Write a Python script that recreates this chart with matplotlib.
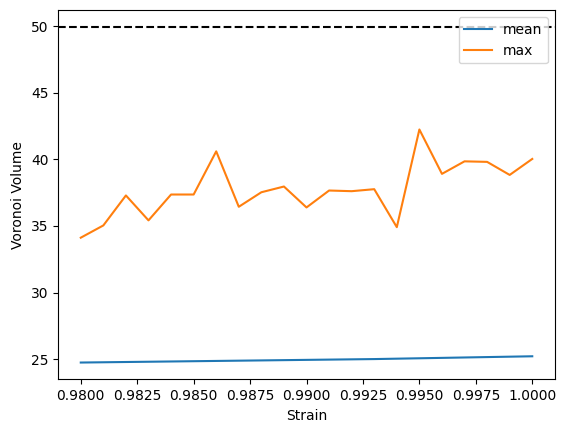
import matplotlib
matplotlib.use("Agg")
import matplotlib.pyplot as plt

strain = [0.980, 0.981, 0.982, 0.983, 0.984, 0.985, 0.986, 0.987, 0.988, 0.989, 0.990,
          0.991, 0.992, 0.993, 0.994, 0.995, 0.996, 0.997, 0.998, 0.999, 1.000]
mean_vals = [24.75, 24.77, 24.79, 24.81, 24.83, 24.85, 24.87, 24.89, 24.91, 24.93, 24.95,
             24.97, 24.99, 25.01, 25.04, 25.07, 25.10, 25.13, 25.16, 25.19, 25.22]
max_vals = [34.12, 35.04, 37.29, 35.42, 37.36, 37.36, 40.60, 36.44, 37.53, 37.96, 36.39,
            37.66, 37.61, 37.76, 34.91, 42.24, 38.91, 39.85, 39.81, 38.83, 40.03]
ref_level = 49.92

fig = plt.figure(figsize=(5.65, 4.33), dpi=100)
ax = fig.add_axes([0.103, 0.124, 0.879, 0.852])
ax.plot(strain, mean_vals, label="mean")
ax.plot(strain, max_vals, label="max")
ax.axhline(ref_level, color="black", linestyle="--")
ax.set_xlabel("Strain")
ax.set_ylabel("Voronoi Volume")
ax.legend(loc="upper right")
fig.savefig("out.png", dpi=100)
